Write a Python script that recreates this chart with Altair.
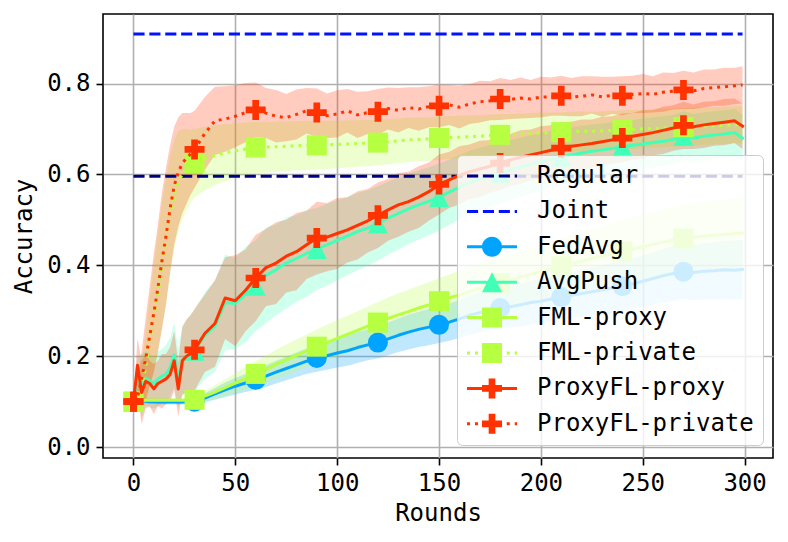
import altair as alt
import pandas as pd

METHODS = ["Regular", "Joint", "FedAvg", "AvgPush", "FML-proxy",
           "FML-private", "ProxyFL-proxy", "ProxyFL-private"]
COLORS = ["#000080", "#0012ff", "#00a4ff", "#41ffb6", "#b6ff41",
          "#b6ff41", "#ff3200", "#ff3200"]

REGULAR = 0.596
JOINT = 0.909
LINE_ENDS = [0, 299]

ROUNDS = [0, 2, 4, 6, 8, 10, 12, 14, 16, 18, 20, 22, 24, 26, 28, 30,
          35, 40, 45, 50, 55, 60, 65, 70, 75, 80, 85, 90, 95, 100,
          105, 110, 115, 120, 125, 130, 135, 140, 145, 150,
          155, 160, 165, 170, 175, 180, 185, 190, 195, 200,
          205, 210, 215, 220, 225, 230, 235, 240, 245, 250,
          255, 260, 265, 270, 275, 280, 285, 290, 295, 299]

FEDAVG = [0.100, 0.103, 0.102, 0.101, 0.100, 0.100, 0.099, 0.099, 0.099, 0.099, 0.099, 0.099, 0.099, 0.099, 0.099, 0.100,
          0.108, 0.117, 0.126, 0.134, 0.141, 0.148, 0.156, 0.165, 0.173, 0.181, 0.189, 0.196, 0.201, 0.207,
          0.212, 0.219, 0.225, 0.230, 0.238, 0.246, 0.253, 0.259, 0.264, 0.269,
          0.275, 0.282, 0.290, 0.296, 0.301, 0.306, 0.309, 0.313, 0.318, 0.321,
          0.326, 0.330, 0.334, 0.338, 0.342, 0.346, 0.350, 0.354, 0.359, 0.365,
          0.371, 0.377, 0.382, 0.386, 0.384, 0.387, 0.388, 0.390, 0.389, 0.391]
FEDAVG_STD = [0.0, 0.004, 0.005, 0.005, 0.005, 0.005, 0.005, 0.005, 0.005, 0.005, 0.005, 0.005, 0.005, 0.005, 0.005, 0.006,
              0.010, 0.013, 0.016, 0.018, 0.020, 0.022, 0.024, 0.025, 0.026, 0.027, 0.028, 0.030, 0.031, 0.032,
              0.033, 0.034, 0.034, 0.035, 0.036, 0.037, 0.038, 0.039, 0.040, 0.040,
              0.041, 0.042, 0.043, 0.044, 0.044, 0.045, 0.046, 0.047, 0.048, 0.049,
              0.050, 0.050, 0.051, 0.052, 0.053, 0.054, 0.055, 0.055, 0.056, 0.057,
              0.058, 0.059, 0.060, 0.060, 0.061, 0.062, 0.063, 0.064, 0.065, 0.065]

AVGPUSH = [0.100, 0.150, 0.135, 0.152, 0.146, 0.140, 0.150, 0.156, 0.160, 0.175, 0.203, 0.152, 0.190, 0.200, 0.206, 0.212,
           0.245, 0.266, 0.318, 0.316, 0.336, 0.355, 0.378, 0.390, 0.405, 0.415, 0.426, 0.436, 0.445, 0.455,
           0.464, 0.474, 0.482, 0.492, 0.504, 0.514, 0.524, 0.533, 0.541, 0.550,
           0.561, 0.572, 0.582, 0.590, 0.597, 0.603, 0.610, 0.616, 0.622, 0.628,
           0.634, 0.639, 0.643, 0.647, 0.651, 0.654, 0.657, 0.661, 0.664, 0.667,
           0.670, 0.673, 0.677, 0.685, 0.680, 0.684, 0.687, 0.689, 0.692, 0.680]
AVGPUSH_STD = [0.0, 0.05, 0.07, 0.06, 0.06, 0.055, 0.06, 0.06, 0.065, 0.065, 0.07, 0.065, 0.075, 0.08, 0.085, 0.09,
               0.095, 0.10, 0.105, 0.10, 0.105, 0.10, 0.105, 0.10, 0.10, 0.095, 0.095, 0.09, 0.09, 0.088,
               0.086, 0.085, 0.083, 0.082, 0.080, 0.079, 0.077, 0.076, 0.075, 0.074,
               0.072, 0.071, 0.070, 0.069, 0.068, 0.067, 0.066, 0.065, 0.064, 0.063,
               0.062, 0.061, 0.060, 0.060, 0.059, 0.058, 0.058, 0.057, 0.056, 0.056,
               0.055, 0.055, 0.054, 0.054, 0.053, 0.053, 0.052, 0.052, 0.052, 0.052]

FML_PROXY = [0.100, 0.104, 0.103, 0.103, 0.103, 0.103, 0.103, 0.103, 0.103, 0.103, 0.103, 0.103, 0.103, 0.103, 0.103, 0.104,
             0.112, 0.121, 0.131, 0.141, 0.151, 0.161, 0.171, 0.182, 0.192, 0.202, 0.212, 0.221, 0.230, 0.239,
             0.248, 0.257, 0.266, 0.274, 0.283, 0.291, 0.298, 0.306, 0.313, 0.321,
             0.328, 0.335, 0.342, 0.349, 0.355, 0.361, 0.367, 0.374, 0.380, 0.386,
             0.392, 0.398, 0.404, 0.409, 0.415, 0.420, 0.426, 0.431, 0.436, 0.441,
             0.446, 0.451, 0.455, 0.459, 0.462, 0.464, 0.466, 0.468, 0.470, 0.471]
FML_PROXY_STD = [0.0, 0.004, 0.005, 0.005, 0.005, 0.005, 0.005, 0.005, 0.005, 0.005, 0.005, 0.005, 0.005, 0.005, 0.005, 0.006,
                 0.011, 0.015, 0.019, 0.022, 0.025, 0.028, 0.030, 0.032, 0.034, 0.035, 0.036, 0.038, 0.039, 0.040,
                 0.041, 0.042, 0.043, 0.045, 0.046, 0.047, 0.048, 0.049, 0.050, 0.051,
                 0.052, 0.053, 0.054, 0.055, 0.056, 0.057, 0.058, 0.058, 0.059, 0.060,
                 0.061, 0.062, 0.063, 0.064, 0.065, 0.066, 0.067, 0.068, 0.069, 0.070,
                 0.071, 0.072, 0.073, 0.074, 0.075, 0.076, 0.076, 0.077, 0.078, 0.078]

FML_PRIVATE = [0.100, 0.105, 0.130, 0.175, 0.230, 0.285, 0.340, 0.400, 0.455, 0.510, 0.555, 0.585, 0.600, 0.610, 0.618, 0.625,
               0.635, 0.642, 0.648, 0.652, 0.656, 0.659, 0.660, 0.661, 0.662, 0.663, 0.664, 0.664, 0.665, 0.666,
               0.667, 0.668, 0.669, 0.670, 0.672, 0.674, 0.676, 0.677, 0.678, 0.680,
               0.681, 0.682, 0.683, 0.684, 0.686, 0.687, 0.688, 0.689, 0.690, 0.691,
               0.692, 0.693, 0.694, 0.695, 0.695, 0.696, 0.697, 0.698, 0.699, 0.700,
               0.701, 0.702, 0.703, 0.704, 0.705, 0.706, 0.707, 0.708, 0.709, 0.710]
FML_PRIVATE_STD = [0.0, 0.02, 0.05, 0.08, 0.10, 0.12, 0.13, 0.14, 0.14, 0.13, 0.12, 0.11, 0.10, 0.09, 0.08, 0.075,
                   0.070, 0.066, 0.063, 0.060, 0.058, 0.057, 0.056, 0.055, 0.055, 0.054, 0.054, 0.053, 0.053, 0.052,
                   0.052, 0.051, 0.051, 0.050, 0.050, 0.049, 0.049, 0.048, 0.048, 0.048,
                   0.047, 0.047, 0.047, 0.046, 0.046, 0.046, 0.045, 0.045, 0.045, 0.045,
                   0.044, 0.044, 0.044, 0.044, 0.043, 0.043, 0.043, 0.043, 0.043, 0.042,
                   0.042, 0.042, 0.042, 0.042, 0.042, 0.041, 0.041, 0.041, 0.041, 0.041]

PROXYFL_PROXY = [0.100, 0.180, 0.120, 0.145, 0.140, 0.128, 0.140, 0.145, 0.150, 0.160, 0.190, 0.128, 0.190, 0.200, 0.205, 0.214,
                 0.250, 0.272, 0.328, 0.322, 0.345, 0.372, 0.395, 0.405, 0.420, 0.430, 0.445, 0.460, 0.462, 0.470,
                 0.478, 0.488, 0.498, 0.510, 0.522, 0.533, 0.540, 0.550, 0.562, 0.578,
                 0.588, 0.598, 0.606, 0.612, 0.618, 0.625, 0.632, 0.638, 0.643, 0.648,
                 0.653, 0.658, 0.662, 0.665, 0.668, 0.672, 0.676, 0.680, 0.684, 0.688,
                 0.692, 0.697, 0.702, 0.708, 0.705, 0.709, 0.712, 0.715, 0.718, 0.706]
PROXYFL_PROXY_STD = [0.0, 0.06, 0.07, 0.06, 0.05, 0.055, 0.05, 0.06, 0.055, 0.06, 0.065, 0.06, 0.075, 0.08, 0.085, 0.09,
                     0.085, 0.095, 0.09, 0.10, 0.09, 0.095, 0.085, 0.09, 0.08, 0.085, 0.075, 0.08, 0.075, 0.078,
                     0.072, 0.075, 0.070, 0.072, 0.068, 0.070, 0.066, 0.068, 0.064, 0.066,
                     0.062, 0.064, 0.060, 0.062, 0.058, 0.060, 0.057, 0.059, 0.056, 0.058,
                     0.055, 0.057, 0.054, 0.056, 0.053, 0.055, 0.052, 0.054, 0.051, 0.053,
                     0.050, 0.052, 0.050, 0.052, 0.049, 0.051, 0.049, 0.051, 0.049, 0.050]

PROXYFL_PRIVATE = [0.100, 0.110, 0.150, 0.195, 0.245, 0.295, 0.350, 0.410, 0.465, 0.525, 0.575, 0.605, 0.625, 0.635, 0.645, 0.655,
                   0.690, 0.718, 0.722, 0.728, 0.736, 0.742, 0.735, 0.728, 0.725, 0.732, 0.740, 0.736, 0.729, 0.733,
                   0.740, 0.731, 0.736, 0.738, 0.745, 0.741, 0.747, 0.744, 0.749, 0.751,
                   0.753, 0.748, 0.755, 0.760, 0.762, 0.766, 0.765, 0.768, 0.766, 0.770,
                   0.771, 0.773, 0.770, 0.772, 0.775, 0.771, 0.774, 0.773, 0.776, 0.778,
                   0.776, 0.781, 0.783, 0.786, 0.784, 0.789, 0.791, 0.793, 0.795, 0.797]
PROXYFL_PRIVATE_STD = [0.0, 0.03, 0.06, 0.09, 0.11, 0.13, 0.14, 0.15, 0.15, 0.14, 0.13, 0.12, 0.11, 0.10, 0.09, 0.085,
                       0.08, 0.075, 0.072, 0.068, 0.065, 0.060, 0.055, 0.058, 0.052, 0.055, 0.050, 0.053, 0.049, 0.052,
                       0.048, 0.051, 0.047, 0.050, 0.046, 0.049, 0.045, 0.048, 0.045, 0.047,
                       0.044, 0.047, 0.044, 0.046, 0.043, 0.046, 0.043, 0.045, 0.042, 0.045,
                       0.042, 0.044, 0.042, 0.044, 0.041, 0.044, 0.041, 0.043, 0.041, 0.043,
                       0.040, 0.043, 0.040, 0.042, 0.040, 0.042, 0.040, 0.042, 0.040, 0.041]

X_TICKS = [0, 50, 100, 150, 200, 250, 300]
Y_TICKS = [0.0, 0.2, 0.4, 0.6, 0.8]

FONT = "DejaVu Sans Mono"

# ---- styling helpers ----
DASHED = [11.1, 4.8]
DOTTED = [3, 4.95]


def rect(a, b, h=0.3):
    return f"M{a},{-h}L{b},{-h}L{b},{h}L{a},{h}Z"


SOLID_H = rect(-5, 5)
DASH_H = "".join(rect(a, b) for a, b in [(-5, -2.78), (-1.82, 0.4), (1.36, 3.58), (4.54, 5)])
DOT_H = "".join(rect(a, b) for a, b in [(-5, -4.4), (-3.41, -2.81), (-1.82, -1.22), (-0.23, 0.37),
                                        (1.36, 1.96), (2.95, 3.55), (4.54, 5)])
L_CIRCLE = "M-2,0A2,2 0 1,1 2,0A2,2 0 1,1 -2,0Z"
L_SQUARE = "M-2,-2L2,-2L2,2L-2,2Z"
L_TRI = "M0,-2L2,2L-2,2Z"
L_PLUS = ("M-0.667,-2L0.667,-2L0.667,-0.667L2,-0.667L2,0.667L0.667,0.667L0.667,2"
          "L-0.667,2L-0.667,0.667L-2,0.667L-2,-0.667L-0.667,-0.667Z")
LEGEND_SHAPES = [DASH_H, DASH_H, SOLID_H + L_CIRCLE, SOLID_H + L_TRI, SOLID_H + L_SQUARE,
                 DOT_H + L_SQUARE, SOLID_H + L_PLUS, DOT_H + L_PLUS]

M_TRI = "M0,-1L1,1L-1,1Z"
M_PLUS = ("M-0.3333,-1L0.3333,-1L0.3333,-0.3333L1,-0.3333L1,0.3333L0.3333,0.3333L0.3333,1"
          "L-0.3333,1L-0.3333,0.3333L-1,0.3333L-1,-0.3333L-0.3333,-0.3333Z")

SERIES = [
    ("FedAvg", FEDAVG, FEDAVG_STD, "#00a4ff", None, "circle"),
    ("AvgPush", AVGPUSH, AVGPUSH_STD, "#41ffb6", None, M_TRI),
    ("FML-proxy", FML_PROXY, FML_PROXY_STD, "#b6ff41", None, "square"),
    ("FML-private", FML_PRIVATE, FML_PRIVATE_STD, "#b6ff41", DOTTED, "square"),
    ("ProxyFL-proxy", PROXYFL_PROXY, PROXYFL_PROXY_STD, "#ff3200", None, M_PLUS),
    ("ProxyFL-private", PROXYFL_PRIVATE, PROXYFL_PRIVATE_STD, "#ff3200", DOTTED, M_PLUS),
]

X_SCALE = alt.Scale(domain=[-14.95, 313.95], nice=False, zero=False)
Y_SCALE = alt.Scale(domain=[-0.024, 0.953], nice=False, zero=False)
X_AXIS = alt.Axis(values=X_TICKS, title="Rounds", format="d")
Y_AXIS = alt.Axis(values=Y_TICKS, title="Accuracy", format=".1f")

x_enc = alt.X("rounds:Q", scale=X_SCALE, axis=X_AXIS)
y_enc = alt.Y("acc:Q", scale=Y_SCALE, axis=Y_AXIS)

frames = {}
for name, mean, std, color, dash, shape in SERIES:
    df = pd.DataFrame({"rounds": ROUNDS, "acc": mean, "std": std})
    df["lo"] = df["acc"] - df["std"]
    df["hi"] = df["acc"] + df["std"]
    frames[name] = df

bands = []
for name, mean, std, color, dash, shape in SERIES:
    bands.append(
        alt.Chart(frames[name]).mark_area(color=color, fillOpacity=0.25, strokeWidth=0)
        .encode(x=x_enc, y=alt.Y("lo:Q", scale=Y_SCALE, axis=Y_AXIS), y2="hi:Q")
    )

refs = []
for val, color in [(REGULAR, "#000080"), (JOINT, "#0012ff")]:
    refs.append(
        alt.Chart(pd.DataFrame({"rounds": LINE_ENDS, "acc": [val, val]}))
        .mark_line(color=color, strokeWidth=3, strokeDash=DASHED, strokeCap="butt")
        .encode(x=x_enc, y=y_enc)
    )

lines = []
for name, mean, std, color, dash, shape in SERIES:
    kw = dict(color=color, strokeWidth=3, strokeJoin="round")
    if dash:
        kw.update(strokeDash=dash, strokeCap="butt")
    else:
        kw.update(strokeCap="square")
    lines.append(alt.Chart(frames[name]).mark_line(**kw).encode(x=x_enc, y=y_enc))
    lines.append(
        alt.Chart(frames[name]).transform_filter("datum.rounds % 30 == 0")
        .mark_point(shape=shape, size=400, filled=True, color=color, opacity=1, strokeWidth=0)
        .encode(x=x_enc, y=y_enc)
    )

legend = alt.Legend(
    title=None, orient="none", legendX=354, legendY=141,
    labelFont=FONT, labelFontSize=24, labelColor="black", labelLimit=400,
    symbolSize=100, symbolStrokeWidth=0, symbolOffset=14, labelOffset=33,
    padding=9, rowPadding=11.4,
    fillColor="rgba(255,255,255,0.8)", strokeColor="#cccccc", cornerRadius=5,
)
legend_layer = (
    alt.Chart(pd.DataFrame({"method": METHODS}))
    .transform_filter("false")
    .mark_point(filled=True, opacity=1, strokeWidth=0)
    .encode(
        color=alt.Color("method:N", scale=alt.Scale(domain=METHODS, range=COLORS), legend=legend),
        shape=alt.Shape("method:N", scale=alt.Scale(domain=METHODS, range=LEGEND_SHAPES), legend=legend),
    )
)

chart = (
    alt.layer(*bands, *refs, *lines, legend_layer)
    .properties(width=670, height=444,
                autosize=alt.AutoSizeParams(type="none"),
                padding={"left": 95, "top": 6, "right": 7, "bottom": 70})
    .configure_view(stroke="black", strokeWidth=1.6)
    .configure_axis(
        labelFont=FONT, labelFontSize=24, labelColor="black",
        titleFont=FONT, titleFontSize=24, titleFontWeight="normal", titleColor="black",
        tickColor="black", tickWidth=1.6, tickSize=7, labelPadding=6,
        domain=False, grid=True, gridColor="#b0b0b0", gridWidth=1.6,
    )
    .configure_axisX(titlePadding=6)
    .configure_axisY(titlePadding=10)
)

chart.save("out.html", embed_options={"renderer": "svg", "actions": False})
